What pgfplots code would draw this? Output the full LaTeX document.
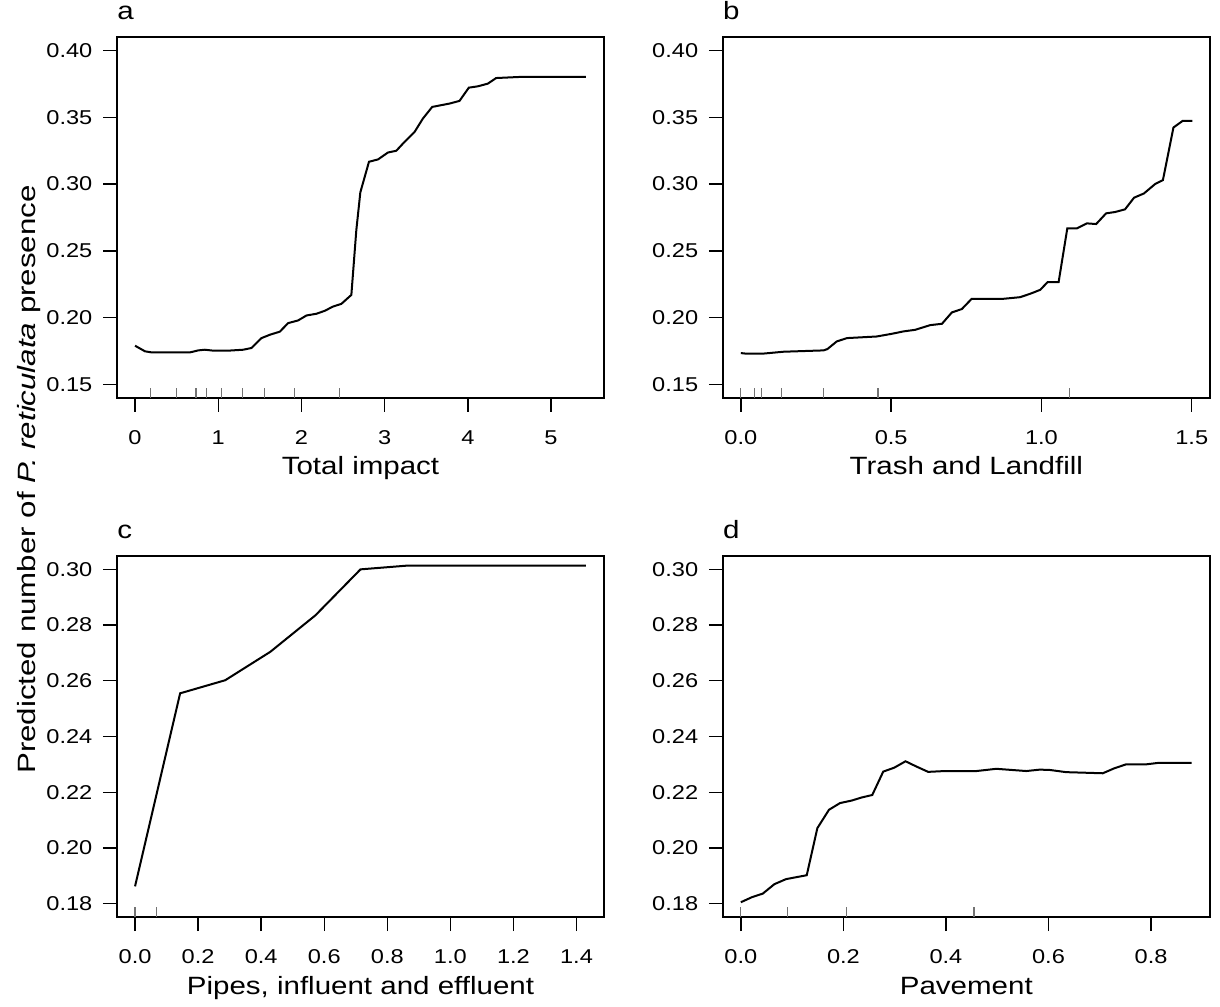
\documentclass[border=0pt]{standalone}
\usepackage{pgfplots}
\pgfplotsset{compat=1.18}
\usepackage{fontspec}
\setmainfont{Liberation Sans}[FakeStretch=1.18]
\newfontfamily\ylabfont{Liberation Sans}[FakeStretch=1.25]

\pgfplotsset{
  panel/.style={
    scale only axis, width=243.5pt, height=180.5pt,
    axis line style={line width=0.7pt},
    tick pos=left, tick align=outside, major tick length=7pt,
    tick style={black, line width=0.7pt},
    ticklabel style={font=\fontsize{10}{12}\selectfont},
    /pgf/number format/assume math mode=true,
    yticklabel style={xshift=-1.8pt},
    xticklabel style={yshift=-5.7pt},
    xlabel style={font=\fontsize{12.5}{15}\selectfont, at={(axis description cs:0.5,0)}, anchor=base, yshift=-38.5pt},
    title style={font=\fontsize{12.5}{15}\selectfont, at={(axis description cs:0,1)}, anchor=base west, yshift=2.5pt, inner sep=0pt},
    unbounded coords=jump,
  },
  curve/.style={black, line width=1pt, no marks},
  rug/.style={black!55, line width=0.6pt, no marks},
}

\begin{document}
\begin{tikzpicture}
\useasboundingbox (0,0) rectangle (610pt,503pt);

% a
\begin{axis}[panel, at={(58.5pt,304pt)}, anchor=south west,
  xmin=-0.2168, xmax=5.6368, ymin=0.14, ymax=0.41,
  xtick={0,1,2,3,4,5}, ytick={0.15,0.20,0.25,0.30,0.35,0.40},
  yticklabel style={/pgf/number format/.cd, fixed, fixed zerofill, precision=2},
  title={a}, xlabel={Total impact}]
\addplot[curve] coordinates {(0,0.1791) (0.12,0.1749) (0.2,0.1741) (0.66,0.1741) (0.76,0.1756) (0.84,0.1761) (0.94,0.1754) (1.12,0.1754) (1.3,0.1761) (1.4,0.1774) (1.52,0.1848) (1.62,0.1873) (1.74,0.1896) (1.84,0.1960) (1.96,0.1980) (2.06,0.2017) (2.18,0.2030) (2.28,0.2052) (2.38,0.2084) (2.48,0.2104) (2.6,0.2171) (2.66,0.2657) (2.708,0.2938) (2.812,0.3167) (2.92,0.3184) (3.04,0.3236) (3.14,0.3249) (3.24,0.3316) (3.36,0.3390) (3.46,0.3490) (3.572,0.3577) (3.78,0.3602) (3.9,0.3622) (4.012,0.3721) (4.12,0.3731) (4.24,0.3751) (4.34,0.3793) (4.62,0.3801) (5.42,0.3801)};
\addplot[rug] coordinates {(0.188,0.14) (0.188,0.1475) (0.188,nan) (0.5,0.14) (0.5,0.1475) (0.5,nan) (0.732,0.14) (0.732,0.1475) (0.732,nan) (0.86,0.14) (0.86,0.1475) (0.86,nan) (1.044,0.14) (1.044,0.1475) (1.044,nan) (1.288,0.14) (1.288,0.1475) (1.288,nan) (1.552,0.14) (1.552,0.1475) (1.552,nan) (1.92,0.14) (1.92,0.1475) (1.92,nan) (2.46,0.14) (2.46,0.1475)};
\end{axis}

% b
\begin{axis}[panel, at={(361.4pt,304pt)}, anchor=south west,
  xmin=-0.06, xmax=1.56, ymin=0.14, ymax=0.41,
  xtick={0,0.5,1,1.5}, ytick={0.15,0.20,0.25,0.30,0.35,0.40},
  xticklabel style={/pgf/number format/.cd, fixed, fixed zerofill, precision=1},
  yticklabel style={/pgf/number format/.cd, fixed, fixed zerofill, precision=2},
  title={b}, xlabel={Trash and Landfill}]
\addplot[curve] coordinates {(0,0.1736) (0.02,0.1731) (0.07,0.1731) (0.142,0.1746) (0.275,0.1756) (0.288,0.1766) (0.319,0.1823) (0.353,0.1848) (0.452,0.1860) (0.502,0.1880) (0.541,0.1898) (0.58,0.1910) (0.63,0.1945) (0.669,0.1955) (0.702,0.2040) (0.735,0.2065) (0.768,0.2142) (0.874,0.2142) (0.929,0.2154) (0.962,0.2179) (0.996,0.2209) (1.02,0.2266) (1.057,0.2266) (1.086,0.2669) (1.118,0.2669) (1.151,0.2706) (1.182,0.2701) (1.215,0.2781) (1.245,0.2791) (1.278,0.2811) (1.308,0.2898) (1.341,0.2930) (1.378,0.3000) (1.404,0.3030) (1.439,0.3423) (1.47,0.3473) (1.502,0.3473)};
\addplot[rug] coordinates {(0,0.14) (0,0.1475) (0,nan) (0.045,0.14) (0.045,0.1475) (0.045,nan) (0.07,0.14) (0.07,0.1475) (0.07,nan) (0.136,0.14) (0.136,0.1475) (0.136,nan) (0.275,0.14) (0.275,0.1475) (0.275,nan) (0.456,0.14) (0.456,0.1475) (0.456,nan) (1.093,0.14) (1.093,0.1475)};
\end{axis}

% c
\begin{axis}[panel, at={(58.5pt,44.5pt)}, anchor=south west,
  xmin=-0.0572, xmax=1.4872, ymin=0.1752, ymax=0.3048,
  xtick={0,0.2,0.4,0.6,0.8,1.0,1.2,1.4}, ytick={0.18,0.20,0.22,0.24,0.26,0.28,0.30},
  xticklabel style={/pgf/number format/.cd, fixed, fixed zerofill, precision=1},
  yticklabel style={/pgf/number format/.cd, fixed, fixed zerofill, precision=2},
  title={c}, xlabel={Pipes, influent and effluent}]
\addplot[curve] coordinates {(0,0.1862) (0.143,0.2555) (0.286,0.2602) (0.429,0.2704) (0.572,0.2835) (0.715,0.3000) (0.858,0.3013) (1.001,0.3013) (1.144,0.3013) (1.287,0.3013) (1.43,0.3013)};
\addplot[rug] coordinates {(0,0.1752) (0,0.1788) (0,nan) (0.0687,0.1752) (0.0687,0.1788)};
\end{axis}

% d
\begin{axis}[panel, at={(361.4pt,44.5pt)}, anchor=south west,
  xmin=-0.0352, xmax=0.9146, ymin=0.1752, ymax=0.3048,
  xtick={0,0.2,0.4,0.6,0.8}, ytick={0.18,0.20,0.22,0.24,0.26,0.28,0.30},
  xticklabel style={/pgf/number format/.cd, fixed, fixed zerofill, precision=1},
  yticklabel style={/pgf/number format/.cd, fixed, fixed zerofill, precision=2},
  title={d}, xlabel={Pavement}]
\addplot[curve] coordinates {(0,0.1805) (0.0214,0.1823) (0.0428,0.1836) (0.0655,0.1870) (0.0882,0.1888) (0.1285,0.1902) (0.1492,0.2071) (0.1719,0.2137) (0.1934,0.2161) (0.2161,0.2170) (0.2355,0.2181) (0.2563,0.2190) (0.2777,0.2274) (0.2991,0.2288) (0.3212,0.2311) (0.3426,0.2292) (0.3653,0.2273) (0.3977,0.2276) (0.4594,0.2276) (0.4983,0.2284) (0.5567,0.2276) (0.5826,0.2281) (0.6021,0.2280) (0.6345,0.2272) (0.7059,0.2268) (0.7286,0.2286) (0.7513,0.2300) (0.7903,0.2300) (0.813,0.2305) (0.879,0.2305)};
\addplot[rug] coordinates {(0,0.1752) (0,0.1788) (0,nan) (0.0908,0.1752) (0.0908,0.1788) (0.0908,nan) (0.2057,0.1752) (0.2057,0.1788) (0.2057,nan) (0.4548,0.1752) (0.4548,0.1788)};
\end{axis}

\node[rotate=90, anchor=base, font=\ylabfont\fontsize{12.5}{15}\selectfont] at (17.5pt,263.25pt) {Predicted number of \textit{P. reticulata} presence};
\end{tikzpicture}
\end{document}
